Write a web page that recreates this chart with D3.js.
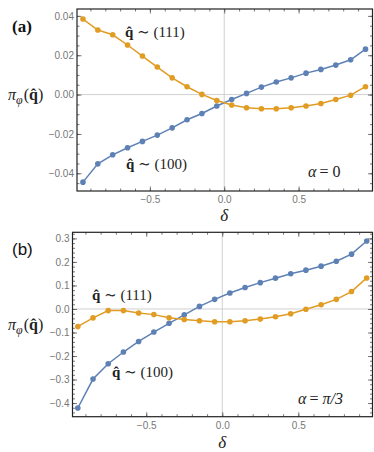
<!DOCTYPE html>
<html>
<head>
<meta charset="utf-8">
<script src="https://cdn.jsdelivr.net/npm/d3@7"></script>
<style>
  body { margin: 0; background: #fff; }
  .tick text { font-family: "Liberation Sans", Arial, sans-serif; font-size: 10px; fill: #777; }
  .math { font-family: "Liberation Serif", "DejaVu Serif", serif; fill: #222; }
</style>
</head>
<body>
<svg width="374" height="452"></svg>
<script>
// delta values (shared by both panels)
var delta = [-0.95, -0.85, -0.75, -0.65, -0.55, -0.45, -0.35, -0.25, -0.15, -0.05,
             0.05, 0.15, 0.25, 0.35, 0.45, 0.55, 0.65, 0.75, 0.85, 0.95];

// panel (a), alpha = 0
var a111 = [0.0384, 0.0328, 0.0304, 0.0252, 0.0196, 0.0140, 0.0085, 0.0040, 0.0001, -0.0030,
            -0.0053, -0.0067, -0.0072, -0.0072, -0.0067, -0.0058, -0.0045, -0.0025, -0.0003, 0.0040];
var a100 = [-0.0445, -0.0352, -0.0306, -0.0270, -0.0238, -0.0206, -0.0169, -0.0128, -0.0096, -0.0058,
            -0.0025, 0.0006, 0.0038, 0.0064, 0.0085, 0.0109, 0.0128, 0.0150, 0.0177, 0.0231];

// panel (b), alpha = pi/3
var b111 = [-0.075, -0.038, -0.007, -0.007, -0.017, -0.024, -0.037, -0.045, -0.050, -0.054,
            -0.054, -0.050, -0.043, -0.033, -0.020, -0.001, 0.018, 0.041, 0.074, 0.132];
var b100 = [-0.421, -0.298, -0.233, -0.183, -0.138, -0.098, -0.061, -0.025, 0.011, 0.041,
            0.068, 0.091, 0.112, 0.131, 0.150, 0.165, 0.182, 0.203, 0.233, 0.289];

var xTicks = [-0.5, 0, 0.5];
var xTickLabels = ["\u22120.5", "0.0", "0.5"];
var aYTicks = [0.04, 0.02, 0, -0.02, -0.04];
var aYTickLabels = ["0.04", "0.02", "0.00", "\u22120.02", "\u22120.04"];
var bYTicks = [0.3, 0.2, 0.1, 0, -0.1, -0.2, -0.3, -0.4];
var bYTickLabels = ["0.3", "0.2", "0.1", "0.0", "\u22120.1", "\u22120.2", "\u22120.3", "\u22120.4"];

var blue = "#5e81b5", orange = "#e19c24";
var svg = d3.select("svg");

function minorList(lo, hi, step) {
  var out = [];
  for (var v = Math.ceil(lo / step - 1e-9); v * step <= hi + 1e-9; v++) out.push(+(v * step).toFixed(6));
  return out;
}

function drawPanel(p) {
  var x = d3.scaleLinear().domain(p.xDomain).range([p.left, p.right]);
  var y = d3.scaleLinear().domain(p.yDomain).range([p.bottom, p.top]);
  var g = svg.append("g");

  // zero lines
  g.append("line").attr("x1", x(0)).attr("x2", x(0)).attr("y1", p.top).attr("y2", p.bottom)
    .attr("stroke", "#d0d0d0").attr("stroke-width", 1);
  g.append("line").attr("x1", p.left).attr("x2", p.right).attr("y1", y(0)).attr("y2", y(0))
    .attr("stroke", "#d0d0d0").attr("stroke-width", 1);

  var xMinor = minorList(p.xDomain[0], p.xDomain[1], 0.1);
  var yMinor = minorList(p.yDomain[0], p.yDomain[1], p.yMinorStep);

  function axis(gen, vals, size, labels, tr) {
    var a = g.append("g").attr("transform", tr)
      .call(gen.tickValues(vals).tickSize(size).tickPadding(3)
        .tickFormat(labels ? function(d, i) { return labels[i]; } : function() { return ""; }));
    a.select(".domain").remove();
    a.selectAll(".tick line").attr("stroke", "#555").attr("stroke-width", 0.8);
    return a;
  }
  // minor ticks, all four sides
  axis(d3.axisBottom(x), xMinor, -2.5, null, "translate(0," + p.bottom + ")");
  axis(d3.axisTop(x), xMinor, -2.5, null, "translate(0," + p.top + ")");
  axis(d3.axisLeft(y), yMinor, -2.5, null, "translate(" + p.left + ",0)");
  axis(d3.axisRight(y), yMinor, -2.5, null, "translate(" + p.right + ",0)");
  // major ticks
  axis(d3.axisBottom(x), xTicks, -4.5, xTickLabels, "translate(0," + p.bottom + ")")
    .selectAll("text").attr("dy", "0.71em").attr("y", 5);
  axis(d3.axisTop(x), xTicks, -4.5, null, "translate(0," + p.top + ")");
  axis(d3.axisLeft(y), p.yTicks, -4.5, p.yTickLabels, "translate(" + p.left + ",0)");
  axis(d3.axisRight(y), p.yTicks, -4.5, null, "translate(" + p.right + ",0)");

  // frame
  g.append("rect").attr("x", p.left).attr("y", p.top)
    .attr("width", p.right - p.left).attr("height", p.bottom - p.top)
    .attr("fill", "none").attr("stroke", "#222").attr("stroke-width", 1.2);

  // series
  var line = d3.line().x(function(d) { return x(d[0]); }).y(function(d) { return y(d[1]); });
  [[p.s100, blue], [p.s111, orange]].forEach(function(s) {
    var pts = d3.zip(delta, s[0]);
    g.append("path").datum(pts).attr("d", line)
      .attr("fill", "none").attr("stroke", s[1]).attr("stroke-width", 1.5);
    g.selectAll(null).data(pts).enter().append("circle")
      .attr("cx", function(d) { return x(d[0]); })
      .attr("cy", function(d) { return y(d[1]); })
      .attr("r", 2.8).attr("fill", s[1]);
  });

  // panel letter
  g.append("text").attr("x", 12).attr("y", p.letterY)
    .attr("font-family", p.letterFont).attr("font-weight", p.letterWeight)
    .attr("font-size", 17).attr("fill", "#111").text(p.letter);

  // y label  pi_phi(q^)
  var yl = g.append("text").attr("class", "math").attr("x", 8).attr("y", p.yLabelY).attr("font-size", 16);
  yl.append("tspan").attr("font-style", "italic").text("\u03c0");
  yl.append("tspan").attr("font-style", "italic").attr("font-size", 12).attr("dy", 4).text("\u03c6");
  yl.append("tspan").attr("dy", -4).attr("dx", 1).text("(");
  yl.append("tspan").attr("font-weight", "bold").text("q\u0302");
  yl.append("tspan").text(")");

  // x label
  g.append("text").attr("class", "math").attr("x", x(0)).attr("y", p.xLabelY)
    .attr("text-anchor", "middle").attr("font-size", 17).attr("font-style", "italic").text("\u03b4");

  // annotations
  function qLabel(tx, ty, txt) {
    var t = g.append("text").attr("class", "math").attr("x", tx).attr("y", ty).attr("font-size", 15);
    t.append("tspan").attr("font-weight", "bold").text("q\u0302");
    t.append("tspan").text(" \u223c " + txt);
  }
  qLabel(p.l111[0], p.l111[1], "(111)");
  qLabel(p.l100[0], p.l100[1], "(100)");
  var al = g.append("text").attr("class", "math").attr("x", p.alpha[0]).attr("y", p.alpha[1]).attr("font-size", 16);
  al.append("tspan").attr("font-style", "italic").text("\u03b1");
  al.append("tspan").attr("dx", 3).text("=");
  al.append("tspan").attr("dx", 4).attr("font-style", p.alphaItalic ? "italic" : "normal").text(p.alphaText);
}

drawPanel({
  left: 77, right: 372.5, top: 9, bottom: 191,
  xDomain: [-0.99, 0.997], yDomain: [-0.049, 0.0435],
  yTicks: aYTicks, yTickLabels: aYTickLabels, yMinorStep: 0.005,
  s111: a111, s100: a100,
  letter: "(a)", letterY: 32, letterFont: "Liberation Serif, serif", letterWeight: "bold",
  yLabelY: 100, xLabelY: 221,
  l111: [125, 37], l100: [126, 169], alpha: [308, 177], alphaText: "0", alphaItalic: false
});

drawPanel({
  left: 72.5, right: 372.5, top: 232.3, bottom: 416.7,
  xDomain: [-0.985, 0.988], yDomain: [-0.458, 0.326],
  yTicks: bYTicks, yTickLabels: bYTickLabels, yMinorStep: 0.02,
  s111: b111, s100: b100,
  letter: "(b)", letterY: 255, letterFont: "Liberation Sans, Arial, sans-serif", letterWeight: "normal",
  yLabelY: 330, xLabelY: 448,
  l111: [92, 300], l100: [112, 377], alpha: [298, 404], alphaText: "\u03c0/3", alphaItalic: true
});
</script>
</body>
</html>
